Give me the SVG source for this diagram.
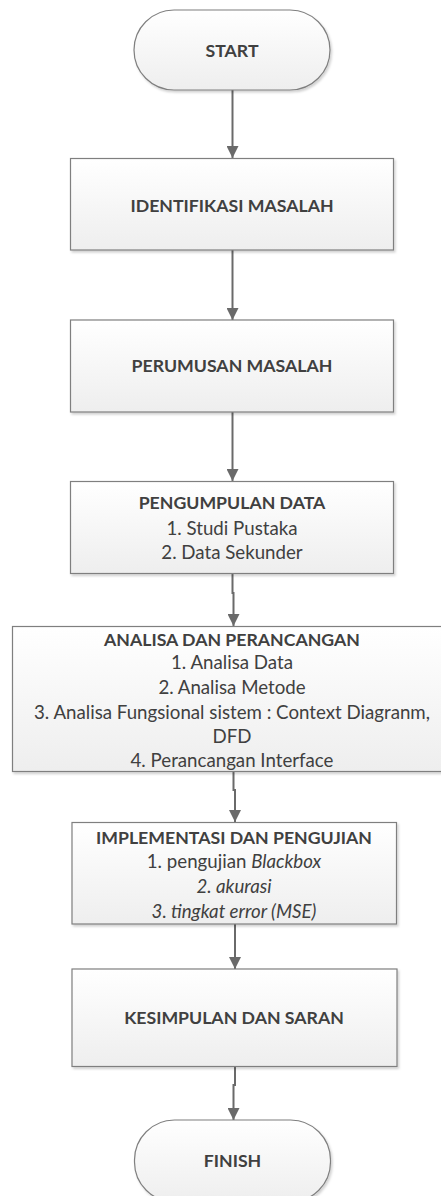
<svg xmlns="http://www.w3.org/2000/svg" width="441" height="1196" viewBox="0 0 441 1196">
<style>
.box{fill:url(#g);stroke:#7f7f7f;stroke-width:1.2;filter:url(#sh)}
.t{font-family:Lato,"Liberation Sans",sans-serif;font-size:18.7px;fill:#404040;text-anchor:middle}
.b{font-weight:bold;font-size:17.7px}
.i{font-style:italic}
.c{fill:none;stroke:#6a6a6a;stroke-width:2;marker-end:url(#ah)}
</style>
<defs>
<linearGradient id="g" x1="0" y1="0" x2="0" y2="1">
<stop offset="0" stop-color="#ffffff"/>
<stop offset="1" stop-color="#eeeeee"/>
</linearGradient>
<filter id="sh" x="-5%" y="-5%" width="110%" height="115%">
<feDropShadow dx="1.5" dy="2" stdDeviation="1.2" flood-color="#000" flood-opacity="0.18"/>
</filter>
<marker id="ah" markerWidth="12" markerHeight="12" viewBox="0 0 12 12" refX="12" refY="6" orient="auto" markerUnits="userSpaceOnUse">
<path d="M0,0 L12,6 L0,12 Z" fill="#6a6a6a"/>
</marker>
</defs>
<rect width="441" height="1196" fill="#ffffff"/>
<g id="connectors">
<path class="c" d="M232.5,90 V158"/>
<path class="c" d="M232.5,250 V320"/>
<path class="c" d="M232.5,412 V481"/>
<path class="c" d="M232.5,573 V593 H233.5 V626"/>
<path class="c" d="M233.5,772 V790 H235 V822"/>
<path class="c" d="M235,924 V969"/>
<path class="c" d="M235,1067 V1085 H233.5 V1120"/>
</g>
<g id="start">
<rect class="box" x="134" y="10" width="196" height="80" rx="40"/>
<text class="t b" x="232" y="56.5">START</text>
</g>
<g id="identifikasi">
<rect class="box" x="70.5" y="158.5" width="323" height="91.5"/>
<text class="t b" x="232" y="211.5">IDENTIFIKASI MASALAH</text>
</g>
<g id="perumusan">
<rect class="box" x="70.5" y="320" width="323" height="92"/>
<text class="t b" x="232" y="372">PERUMUSAN MASALAH</text>
</g>
<g id="pengumpulan">
<rect class="box" x="70.5" y="481.5" width="323" height="92"/>
<text class="t b" x="232" y="508.5">PENGUMPULAN DATA</text>
<text class="t" x="232" y="535">1. Studi Pustaka</text>
<text class="t" x="232" y="558.5">2. Data Sekunder</text>
</g>
<g id="analisa">
<rect class="box" x="12.5" y="626.5" width="440" height="145"/>
<text class="t b" x="232" y="645.5">ANALISA DAN PERANCANGAN</text>
<text class="t" x="232" y="669">1. Analisa Data</text>
<text class="t" x="232" y="694">2. Analisa Metode</text>
<text class="t" x="232" y="718.5">3. Analisa Fungsional sistem : Context Diagranm,</text>
<text class="t" x="232" y="743">DFD</text>
<text class="t" x="232" y="767">4. Perancangan Interface</text>
</g>
<g id="implementasi">
<rect class="box" x="72" y="822.5" width="324.5" height="101.5"/>
<text class="t b" x="234" y="844">IMPLEMENTASI DAN PENGUJIAN</text>
<text class="t" x="234" y="868">1. pengujian <tspan class="i">Blackbox</tspan></text>
<text class="t i" x="234" y="893">2. akurasi</text>
<text class="t i" x="234" y="918">3. tingkat error (MSE)</text>
</g>
<g id="kesimpulan">
<rect class="box" x="72" y="969" width="325" height="97.5"/>
<text class="t b" x="234" y="1024">KESIMPULAN DAN SARAN</text>
</g>
<g id="finish">
<rect class="box" x="134.5" y="1120" width="196" height="82" rx="40"/>
<text class="t b" x="232.5" y="1167">FINISH</text>
</g>
</svg>
